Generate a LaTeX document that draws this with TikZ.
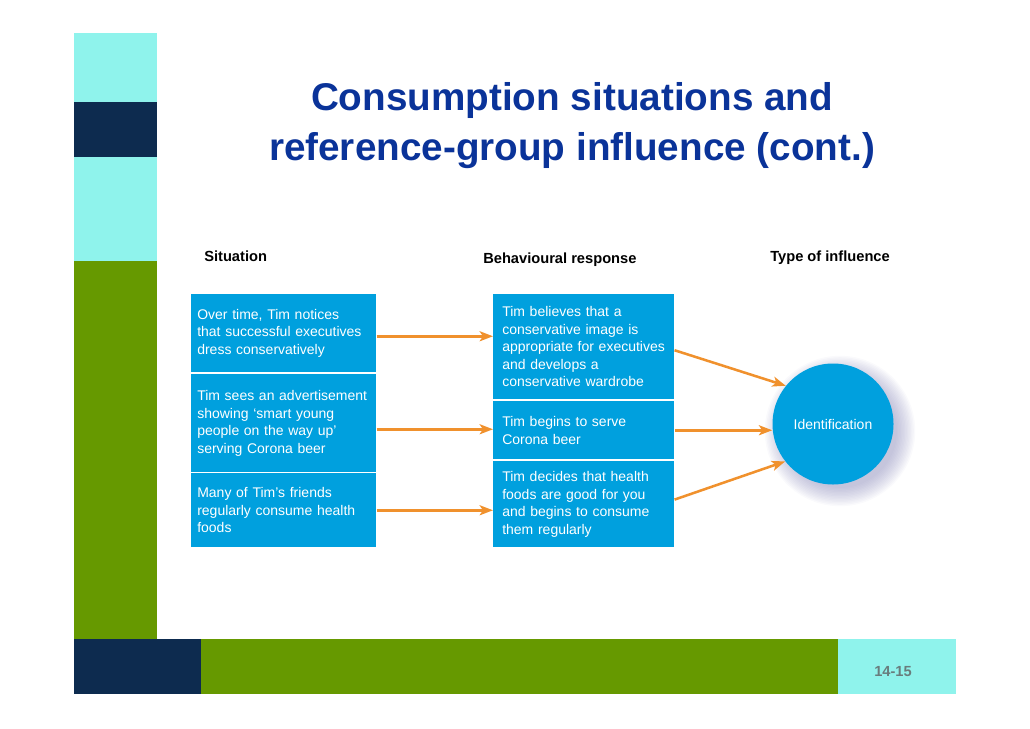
\documentclass[tikz,border=0pt]{standalone}
\usepackage{fontspec}
\setmainfont{Liberation Sans}
\usetikzlibrary{arrows.meta}
\definecolor{boxblue}{RGB}{0,160,222}
\definecolor{titleblue}{RGB}{10,51,153}
\definecolor{barcyan}{RGB}{143,243,236}
\definecolor{barnavy}{RGB}{13,43,79}
\definecolor{bargreen}{RGB}{102,153,0}
\definecolor{arroworange}{RGB}{240,145,45}
\definecolor{shadowcol}{RGB}{120,120,175}
\definecolor{footgray}{RGB}{105,125,125}
\begin{document}
\begin{tikzpicture}[x=0.75pt,y=-0.75pt,
  bodyfont/.style={font=\fontsize{10.5}{13.1}\selectfont},
  sitbox/.style={bodyfont, fill=boxblue, text=white, align=left, anchor=north west,
    inner ysep=0pt, inner xsep=6*0.75pt, text width=173*0.75pt},
  respbox/.style={bodyfont, fill=boxblue, text=white, align=left, anchor=north west,
    inner ysep=0pt, inner xsep=9*0.75pt, text width=163*0.75pt},
  header/.style={font=\fontsize{11}{13}\selectfont\bfseries, anchor=base west, inner sep=0pt},
  arr/.style={draw=arroworange, line width=1.9pt, -{Stealth[length=10pt,width=7.5pt,inset=2.5pt]}}
]
\useasboundingbox (0,0) rectangle (1030,728);

% decorative bars
\fill[barcyan] (74,33) rectangle (157,102);
\fill[barnavy] (74,102) rectangle (157,157);
\fill[barcyan] (74,157) rectangle (157,261);
\fill[bargreen] (74,261) rectangle (157,639);
\fill[barnavy] (74,639) rectangle (201,694);
\fill[bargreen] (201,639) rectangle (838,694);
\fill[barcyan] (838,639) rectangle (956,694);
\node[font=\fontsize{11}{13}\selectfont\bfseries, text=footgray] (page) at (893,672) {14-15};

% title
\node[font=\fontsize{29}{37.5}\selectfont\bfseries, text=titleblue, align=center] (title) at (572,126)
  {Consumption situations and\\reference-group influence (cont.)};

% headers
\node[header] (h1) at (204,261) {Situation};
\node[header] (h2) at (483,263) {Behavioural response};
\node[header] (h3) at (770,261) {Type of influence};

% situation boxes
\node[sitbox, minimum height=78*0.75pt] (l1) at (191,294)
  {Over time, Tim notices\\that successful executives\\dress conservatively};
\node[sitbox, minimum height=98*0.75pt] (l2) at (191,374)
  {Tim sees an advertisement\\showing ‘smart young\\people on the way up’\\serving Corona beer};
\node[sitbox, minimum height=74*0.75pt] (l3) at (191,473)
  {Many of Tim’s friends\\regularly consume health\\foods};

% response boxes
\node[respbox, minimum height=105*0.75pt] (m1) at (493,294)
  {Tim believes that a\\conservative image is\\appropriate for executives\\and develops a\\conservative wardrobe};
\node[respbox, minimum height=58*0.75pt] (m2) at (493,401)
  {Tim begins to serve\\Corona beer};
\node[respbox, minimum height=86*0.75pt] (m3) at (493,461)
  {Tim decides that health\\foods are good for you\\and begins to consume\\them regularly};

% circle shadow
\foreach \k in {0,...,13}
  \fill[shadowcol, opacity=0.04] (840,431) circle ({57+\k*1.4});

% influence circle
\node[circle, fill=boxblue, minimum size=121*0.75pt, inner sep=0pt, text=white, bodyfont] (id) at (833,424) {Identification};

% arrows
\coordinate (a1) at ([yshift=-2.25pt]l1.east);
\coordinate (a2) at ([yshift=-4.5pt]l2.east);
\coordinate (b1) at ([yshift=-2.6pt]m1.east);
\coordinate (b3) at ([yshift=3.5pt]m3.east);
\draw[arr] (a1) -- (a1 -| m1.west);
\draw[arr] (a2) -- (a2 -| m2.west);
\draw[arr] (l3.east) -- (l3.east -| m3.west);
\draw[arr] (b1) -- (id.141);
\draw[arr] (m2.east) -- (m2.east -| id.west);
\draw[arr] (b3) -- (id.218);
\end{tikzpicture}
\end{document}
